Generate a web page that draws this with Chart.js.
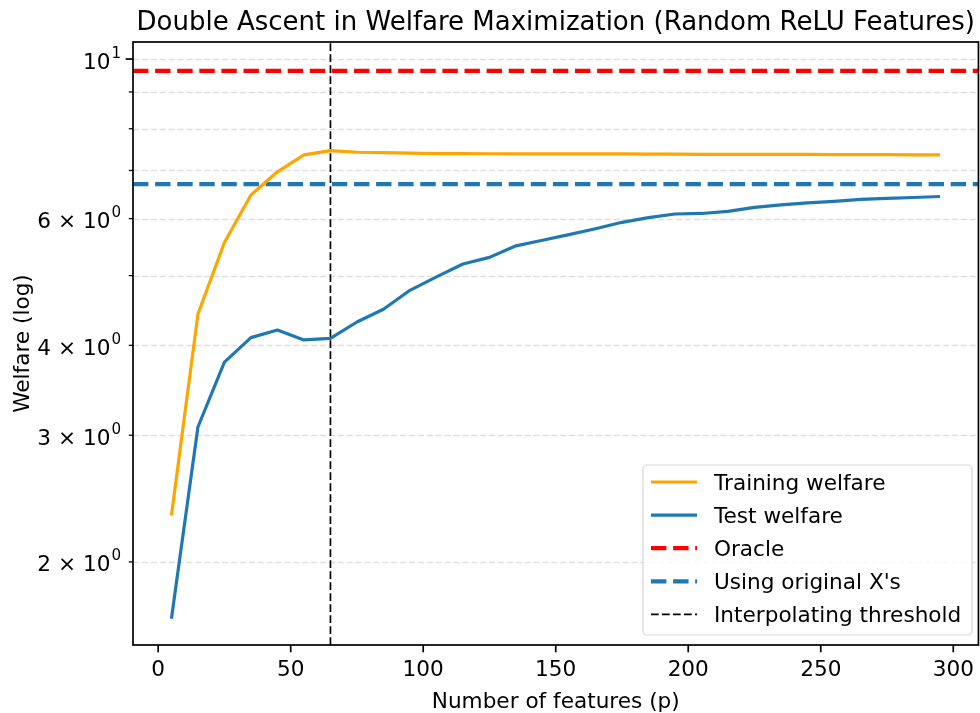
<!DOCTYPE html>
<html>
<head>
<meta charset="utf-8">
<title>Double Ascent in Welfare Maximization</title>
<script src="https://cdn.jsdelivr.net/npm/chart.js@4/dist/chart.umd.min.js"></script>
<style>
  html, body { margin: 0; padding: 0; background: #fff; overflow: hidden; }
  #wrap { position: relative; width: 986px; height: 713px; }
</style>
</head>
<body>
<div id="wrap"><canvas id="welfareChart"></canvas></div>
<script>
// number of random ReLU features p
const featureCounts = [5, 15, 25, 35, 45, 55, 65, 75, 85, 95, 105, 115, 125, 135, 145,
                       155, 165, 175, 185, 195, 205, 215, 225, 235, 245, 255, 265, 275, 285, 295];

// welfare values
const trainWelfare = [2.32, 4.42, 5.56, 6.47, 6.97, 7.36, 7.46, 7.42, 7.41, 7.40, 7.39, 7.39, 7.385, 7.38, 7.38,
                      7.38, 7.38, 7.38, 7.375, 7.375, 7.37, 7.37, 7.37, 7.37, 7.37, 7.365, 7.365, 7.365, 7.36, 7.36];
const testWelfare = [1.667, 3.08, 3.79, 4.10, 4.20, 4.07, 4.09, 4.31, 4.49, 4.77, 4.98, 5.19, 5.30, 5.50, 5.60,
                     5.70, 5.81, 5.93, 6.02, 6.09, 6.10, 6.14, 6.22, 6.27, 6.31, 6.34, 6.38, 6.40, 6.42, 6.44];

const oracleWelfare = 9.63;
const originalXWelfare = 6.70;
const interpolatingThreshold = 65;

// axis ticks
const xTickValues = [0, 50, 100, 150, 200, 250, 300];
const yTickValues = [2, 3, 4, 5, 6, 7, 8, 9, 10];
// [base text, superscript] for the labelled y ticks
const yTickLabels = { 2: ["2 × 10", "0"], 3: ["3 × 10", "0"], 4: ["4 × 10", "0"], 6: ["6 × 10", "0"], 10: ["10", "1"] };

const xMin = -9.5, xMax = 309.5;
const yMin = 1.533, yMax = 10.56;

const FONT = "'DejaVu Sans', sans-serif";
const FS = 21.6; // 10pt
const BLUE = "#1f77b4";
const ORANGE = "#ffa500";

const legendItems = [
    { label: "Training welfare", color: ORANGE, width: 3.2, dash: [] },
    { label: "Test welfare", color: BLUE, width: 3.2, dash: [] },
    { label: "Oracle", color: "#ff0000", width: 4.2, dash: [15.4, 6.7] },
    { label: "Using original X's", color: BLUE, width: 4.2, dash: [15.4, 6.7] },
    { label: "Interpolating threshold", color: "#000000", width: 1.7, dash: [7.7, 3.3] },
];

// grid, spines, tick marks, titles and legend
const decorPlugin = {
    id: "decor",
    beforeDatasetsDraw(chart) {
        const ctx = chart.ctx;
        const area = chart.chartArea;
        const y = chart.scales.y;
        ctx.save();
        ctx.strokeStyle = "rgba(176,176,176,0.4)";
        ctx.lineWidth = 1.7;
        ctx.setLineDash([6.2, 2.7]);
        yTickValues.forEach(v => {
            const py = Math.round(y.getPixelForValue(v)) + 0.5;
            ctx.beginPath();
            ctx.moveTo(area.left, py);
            ctx.lineTo(area.right, py);
            ctx.stroke();
        });
        ctx.restore();
    },
    afterDraw(chart) {
        const ctx = chart.ctx;
        const area = chart.chartArea;
        const x = chart.scales.x;
        const y = chart.scales.y;
        ctx.save();

        // spines
        ctx.strokeStyle = "#000";
        ctx.lineWidth = 1.7;
        ctx.setLineDash([]);
        ctx.strokeRect(area.left, area.top, area.right - area.left, area.bottom - area.top);

        // tick marks
        xTickValues.forEach(v => {
            const px = x.getPixelForValue(v);
            ctx.beginPath();
            ctx.moveTo(px, area.bottom);
            ctx.lineTo(px, area.bottom + 7.3);
            ctx.stroke();
        });
        yTickValues.forEach(v => {
            const py = y.getPixelForValue(v);
            const major = v === 10;
            ctx.lineWidth = major ? 1.7 : 1.25;
            ctx.beginPath();
            ctx.moveTo(area.left, py);
            ctx.lineTo(area.left - (major ? 7.3 : 4.2), py);
            ctx.stroke();
        });

        // y tick labels with superscript exponent
        ctx.fillStyle = "#000";
        ctx.textBaseline = "alphabetic";
        ctx.textAlign = "left";
        const labelRight = area.left - 12;
        yTickValues.forEach(v => {
            const lab = yTickLabels[v];
            if (!lab) return;
            const py = y.getPixelForValue(v);
            ctx.font = (FS * 0.7) + "px " + FONT;
            const supW = ctx.measureText(lab[1]).width;
            ctx.font = FS + "px " + FONT;
            const baseW = ctx.measureText(lab[0]).width;
            const x0 = labelRight - supW - baseW - 1;
            const base = py + 9.5;
            ctx.fillText(lab[0], x0, base);
            ctx.font = (FS * 0.7) + "px " + FONT;
            ctx.fillText(lab[1], x0 + baseW + 1, base - 11);
        });

        // titles
        ctx.textAlign = "center";
        ctx.font = "26px " + FONT;
        ctx.fillText("Double Ascent in Welfare Maximization (Random ReLU Features)", (area.left + area.right) / 2, 30);
        ctx.font = FS + "px " + FONT;
        ctx.fillText("Number of features (p)", (area.left + area.right) / 2, 708);
        ctx.save();
        ctx.translate(29, (area.top + area.bottom) / 2);
        ctx.rotate(-Math.PI / 2);
        ctx.fillText("Welfare (log)", 0, 0);
        ctx.restore();

        // legend
        const bx = 643, by = 465, bw = 329, bh = 170;
        ctx.fillStyle = "rgba(255,255,255,0.8)";
        ctx.strokeStyle = "rgba(204,204,204,0.8)";
        ctx.lineWidth = 1.2;
        ctx.beginPath();
        ctx.roundRect(bx, by, bw, bh, 4);
        ctx.fill();
        ctx.stroke();
        ctx.textAlign = "left";
        ctx.font = FS + "px " + FONT;
        legendItems.forEach((item, i) => {
            const ly = 482 + i * 33.1;
            ctx.strokeStyle = item.color;
            ctx.lineWidth = item.width;
            ctx.setLineDash(item.dash);
            ctx.beginPath();
            ctx.moveTo(651, ly);
            ctx.lineTo(697, ly);
            ctx.stroke();
            ctx.setLineDash([]);
            ctx.fillStyle = "#000";
            ctx.fillText(item.label, 714, ly + 8);
        });
        ctx.restore();
    }
};

function createWelfareChart() {
    const ctx = document.getElementById("welfareChart").getContext("2d");
    const toPoints = vals => featureCounts.map((p, i) => ({ x: p, y: vals[i] }));

    new Chart(ctx, {
        type: "line",
        data: {
            datasets: [
                {
                    label: "Training welfare",
                    data: toPoints(trainWelfare),
                    borderColor: ORANGE,
                    borderWidth: 3.2,
                    borderJoinStyle: "round",
                    pointRadius: 0,
                },
                {
                    label: "Test welfare",
                    data: toPoints(testWelfare),
                    borderColor: BLUE,
                    borderWidth: 3.2,
                    borderJoinStyle: "round",
                    pointRadius: 0,
                },
                {
                    label: "Oracle",
                    data: [{ x: xMin, y: oracleWelfare }, { x: xMax, y: oracleWelfare }],
                    borderColor: "#ff0000",
                    borderWidth: 4.2,
                    borderDash: [15.4, 6.7],
                    pointRadius: 0,
                },
                {
                    label: "Using original X's",
                    data: [{ x: xMin, y: originalXWelfare }, { x: xMax, y: originalXWelfare }],
                    borderColor: BLUE,
                    borderWidth: 4.2,
                    borderDash: [15.4, 6.7],
                    pointRadius: 0,
                },
                {
                    label: "Interpolating threshold",
                    data: [{ x: interpolatingThreshold, y: yMin }, { x: interpolatingThreshold, y: yMax }],
                    borderColor: "#000000",
                    borderWidth: 1.7,
                    borderDash: [7.7, 3.3],
                    pointRadius: 0,
                },
            ],
        },
        options: {
            responsive: true,
            maintainAspectRatio: false,
            animation: false,
            layout: { padding: { left: 0, right: 4, top: 42, bottom: 0 } },
            plugins: {
                legend: { display: false },
                title: { display: false },
                tooltip: { enabled: false },
            },
            scales: {
                x: {
                    type: "linear",
                    min: xMin,
                    max: xMax,
                    grid: { display: false, drawTicks: false },
                    border: { display: false },
                    afterBuildTicks: scale => { scale.ticks = xTickValues.map(v => ({ value: v })); },
                    afterFit: scale => { scale.height = 68; },
                    ticks: {
                        autoSkip: false,
                        maxRotation: 0,
                        padding: 12,
                        color: "#000",
                        font: { family: FONT, size: FS },
                    },
                },
                y: {
                    type: "logarithmic",
                    min: yMin,
                    max: yMax,
                    grid: { display: false, drawTicks: false },
                    border: { display: false },
                    afterBuildTicks: scale => { scale.ticks = yTickValues.map(v => ({ value: v })); },
                    afterFit: scale => { scale.width = 133; },
                    ticks: { display: false },
                },
            },
        },
        plugins: [decorPlugin],
    });
}

document.addEventListener("DOMContentLoaded", createWelfareChart);
</script>
</body>
</html>
